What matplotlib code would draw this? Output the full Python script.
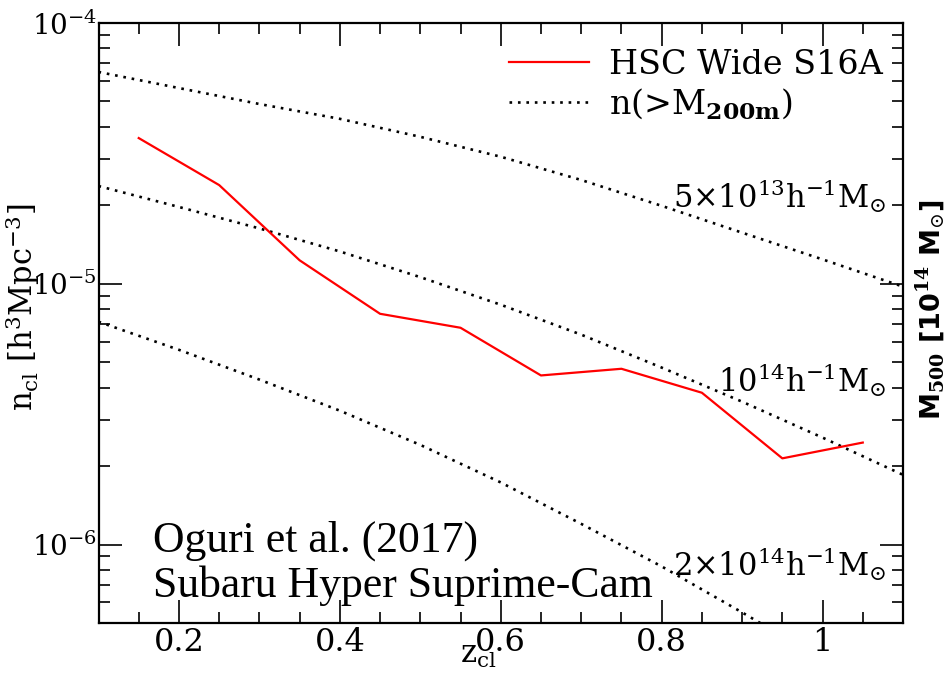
import matplotlib
matplotlib.use("Agg")
import matplotlib.pyplot as plt
from matplotlib.ticker import MultipleLocator, LogLocator, NullFormatter

plt.rcParams['font.family'] = ['DejaVu Serif']
plt.rcParams['mathtext.fontset'] = 'dejavuserif'

# HSC Wide S16A measured abundance
z_hsc = [0.15, 0.25, 0.35, 0.45, 0.55, 0.65, 0.75, 0.85, 0.95, 1.05]
n_hsc = [3.62e-5, 2.39e-5, 1.23e-5, 7.67e-6, 6.78e-6, 4.45e-6, 4.72e-6, 3.82e-6, 2.14e-6, 2.46e-6]

# model curves n(>M200m)
z_model = [0.1, 0.2, 0.3, 0.4, 0.5, 0.6, 0.7, 0.8, 0.9, 1.0, 1.1]
n_5e13 = [6.49e-5, 5.63e-5, 4.89e-5, 4.29e-5, 3.66e-5, 3.07e-5, 2.50e-5, 1.99e-5, 1.57e-5, 1.24e-5, 9.75e-6]
n_1e14 = [2.37e-5, 1.97e-5, 1.63e-5, 1.33e-5, 1.06e-5, 8.31e-6, 6.38e-6, 4.77e-6, 3.53e-6, 2.57e-6, 1.85e-6]
n_2e14 = [7.15e-6, 5.58e-6, 4.29e-6, 3.26e-6, 2.41e-6, 1.73e-6, 1.20e-6, 8.24e-7, 5.49e-7, 3.62e-7, 2.37e-7]

curve_labels = [r"$5{\times}10^{13}\mathrm{h}^{-1}\mathrm{M}_{\odot}$",
                r"$10^{14}\mathrm{h}^{-1}\mathrm{M}_{\odot}$",
                r"$2{\times}10^{14}\mathrm{h}^{-1}\mathrm{M}_{\odot}$"]

xtick_vals = [0.2, 0.4, 0.6, 0.8, 1.0]
xtick_labels = ["0.2", "0.4", "0.6", "0.8", "1"]
ytick_vals = [1e-6, 1e-5, 1e-4]
ytick_labels = [r"$10^{-6}$", r"$10^{-5}$", r"$10^{-4}$"]

W, H = 949, 676
fig = plt.figure(figsize=(W / 100, H / 100), dpi=100)
ax = fig.add_axes([98.5 / W, 1 - 623 / H, (903 - 98.5) / W, (623 - 23) / H])

dot = (0, (1.0, 2.2))
ax.plot(z_hsc, n_hsc, color='#ff0000', lw=1.6, label='HSC Wide S16A', zorder=3)
ax.plot(z_model, n_5e13, color='black', lw=1.9, ls=dot, label=r"n(>M$_{\mathbf{200m}}$)")
ax.plot(z_model, n_1e14, color='black', lw=1.9, ls=dot)
ax.plot(z_model, n_2e14, color='black', lw=1.9, ls=dot)

ax.set_yscale('log')
ax.set_xlim(0.1, 1.1)
ax.set_ylim(5e-7, 1e-4)

ax.set_xticks(xtick_vals)
ax.set_xticklabels(xtick_labels)
ax.xaxis.set_minor_locator(MultipleLocator(0.05))
ax.set_yticks(ytick_vals)
ax.set_yticklabels(ytick_labels)
ax.yaxis.set_minor_locator(LogLocator(base=10, subs=[2, 3, 4, 5, 6, 7, 8, 9]))
ax.yaxis.set_minor_formatter(NullFormatter())

ax.tick_params(which='both', direction='in', top=True, right=True, width=1.2, color='black')
ax.tick_params(which='major', length=16.5)
ax.tick_params(which='minor', length=8)
ax.tick_params(axis='x', which='major', labelsize=23, pad=3)
ax.tick_params(axis='y', which='major', labelsize=20, pad=1)
for s in ax.spines.values():
    s.set_linewidth(1.6)

ax.set_xlabel(r"z$_{\mathrm{cl}}$", fontsize=22)
ax.xaxis.set_label_coords((478 - 98.5) / 804.5, (623 - 639) / 600)
ax.set_ylabel(r"n$_{\mathrm{cl}}$ [h$^3$Mpc$^{-3}$]", fontsize=22)
ax.yaxis.set_label_coords((42 - 98.5) / 804.5, (623 - 307) / 600)

fig.text(930 / W, 1 - 310 / H, r"M$_{\mathbf{500}}$ [10$^{\mathbf{14}}$ M$_{\odot}$]", rotation=90,
         ha='center', va='center', fontsize=19.5, fontweight='bold', family='DejaVu Sans')

leg = ax.legend(loc='upper right', bbox_to_anchor=(1.0, 0.99), frameon=False, fontsize=24,
                handlelength=2.4, handletextpad=0.6, labelspacing=0.15, borderaxespad=0.2)

ax.text(1.0795, 2.16e-5, curve_labels[0], ha='right', va='center', fontsize=22)
ax.text(1.0795, 4.28e-6, curve_labels[1], ha='right', va='center', fontsize=22)
ax.text(1.0795, 8.38e-7, curve_labels[2], ha='right', va='center', fontsize=22)

credit_x = (153 - 98.5) / 804.5
ax.text(credit_x, (623 - 552) / 600, "Oguri et al. (2017)", transform=ax.transAxes,
        ha='left', va='baseline', fontsize=31.5, family='Liberation Serif')
ax.text(credit_x, (623 - 597) / 600, "Subaru Hyper Suprime-Cam", transform=ax.transAxes,
        ha='left', va='baseline', fontsize=31.5, family='Liberation Serif')

fig.savefig('out.png', dpi=100)
